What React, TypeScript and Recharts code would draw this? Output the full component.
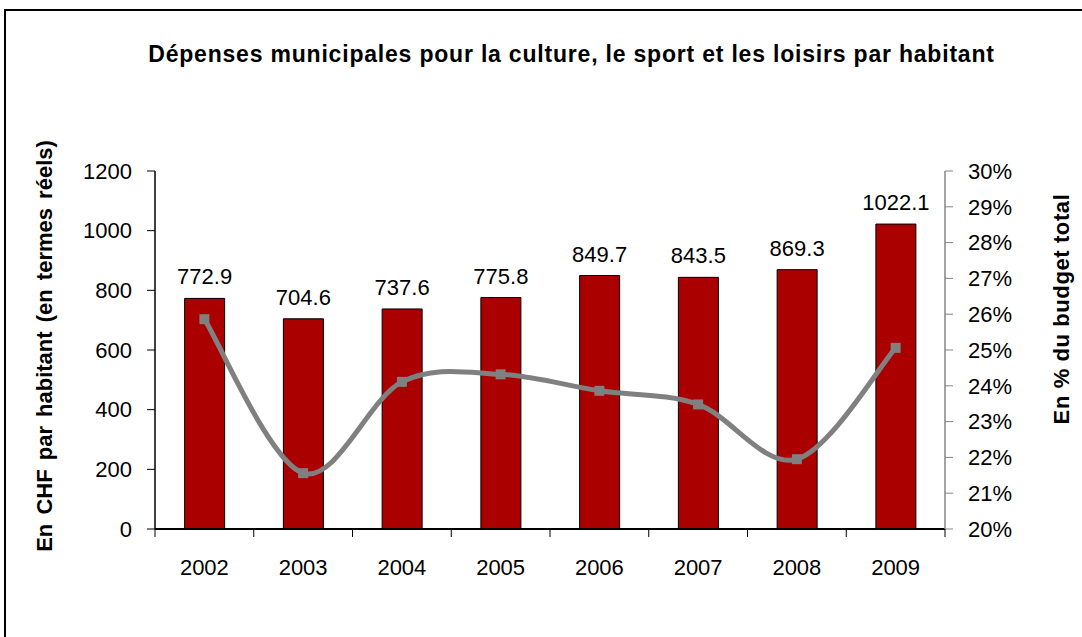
import React from 'react';
import { ComposedChart, Bar, Line, XAxis, YAxis, LabelList, Label } from 'recharts';

const years = ['2002', '2003', '2004', '2005', '2006', '2007', '2008', '2009'];
const spending = [772.9, 704.6, 737.6, 775.8, 849.7, 843.5, 869.3, 1022.1];
const budgetShare = [25.86, 21.56, 24.11, 24.32, 23.86, 23.48, 21.95, 25.06];
const leftTicks = [0, 200, 400, 600, 800, 1000, 1200];
const rightTicks = [20, 21, 22, 23, 24, 25, 26, 27, 28, 29, 30];

const title = 'Dépenses municipales pour la culture, le sport et les loisirs par habitant';
const leftTitle = 'En CHF par habitant (en termes réels)';
const rightTitle = 'En % du budget total';

const data = years.map((y, i) => ({ year: y, spending: spending[i], share: budgetShare[i] }));

const FONT = '"Liberation Sans", Arial, sans-serif';

// Excel-like smoothed line (Catmull-Rom style bezier)
const excelSmooth = (context: any) => {
  let pts: [number, number][] = [];
  return {
    areaStart() {},
    areaEnd() {},
    lineStart() {
      pts = [];
    },
    point(x: number, y: number) {
      pts.push([+x, +y]);
    },
    lineEnd() {
      const n = pts.length;
      if (!n) return;
      context.moveTo(pts[0][0], pts[0][1]);
      for (let i = 0; i < n - 1; i++) {
        const p0 = pts[Math.max(i - 1, 0)];
        const p1 = pts[i];
        const p2 = pts[i + 1];
        const p3 = pts[Math.min(i + 2, n - 1)];
        context.bezierCurveTo(
          p1[0] + (p2[0] - p0[0]) / 6,
          p1[1] + (p2[1] - p0[1]) / 6,
          p2[0] - (p3[0] - p1[0]) / 6,
          p2[1] - (p3[1] - p1[1]) / 6,
          p2[0],
          p2[1]
        );
      }
    },
  };
};

const XTick = (props: any) => {
  const { x, y, payload, index } = props;
  const off = payload && payload.offset ? payload.offset : 0;
  return (
    <g>
      <line x1={x - off} y1={y} x2={x - off} y2={y + 8} stroke="#000" strokeWidth={1} />
      {index === years.length - 1 && (
        <line x1={x + off} y1={y} x2={x + off} y2={y + 8} stroke="#000" strokeWidth={1} />
      )}
      <text x={x} y={y + 38} textAnchor="middle" dominantBaseline="central" fontSize={22} fontFamily={FONT} fill="#000">
        {payload.value}
      </text>
    </g>
  );
};

const SquareDot = (props: any) => {
  const { cx, cy, index } = props;
  if (cx == null || cy == null) return <g key={`d${index}`} />;
  return <rect key={`d${index}`} x={cx - 5} y={cy - 5} width={10} height={10} fill="#808080" />;
};

const LeftTitle = (props: any) => {
  const vb = props.viewBox || { x: 0, y: 0, width: 0, height: 0 };
  const cx = vb.x + 44;
  const cy = vb.y + vb.height / 2 - 4;
  return (
    <text
      x={cx}
      y={cy}
      transform={`rotate(-90 ${cx} ${cy})`}
      textAnchor="middle"
      dominantBaseline="central"
      fontSize={22}
      fontWeight="bold"
      fontFamily={FONT}
      wordSpacing={3}
      fill="#000"
    >
      {leftTitle}
    </text>
  );
};

const RightTitle = (props: any) => {
  const vb = props.viewBox || { x: 0, y: 0, width: 0, height: 0 };
  const cx = vb.x + 116;
  const cy = vb.y + vb.height / 2 - 41;
  return (
    <text
      x={cx}
      y={cy}
      transform={`rotate(-90 ${cx} ${cy})`}
      textAnchor="middle"
      dominantBaseline="central"
      fontSize={22}
      fontWeight="bold"
      fontFamily={FONT}
      letterSpacing={0.6}
      fill="#000"
    >
      {rightTitle}
    </text>
  );
};

export default function App() {
  return (
    <div style={{ position: 'fixed', left: 0, top: 0, width: 1082, height: 637, overflow: 'hidden', background: '#fff' }}>
      <div
        style={{
          position: 'absolute',
          left: 4,
          top: 9,
          width: 1200,
          height: 800,
          borderLeft: '2px solid #000',
          borderTop: '2px solid #000',
          boxSizing: 'border-box',
        }}
      />
      <div
        style={{
          position: 'absolute',
          left: 0,
          top: 43,
          width: 1143,
          textAlign: 'center',
          fontFamily: FONT,
          fontWeight: 'bold',
          fontSize: 23,
          letterSpacing: '0.8px',
          lineHeight: '23px',
          color: '#000',
          whiteSpace: 'nowrap',
        }}
      >
        {title}
      </div>
      <div style={{ position: 'absolute', left: 0, top: 0 }}>
        <ComposedChart width={1082} height={637} data={data} margin={{ top: 171, right: 0, bottom: 0, left: 0 }} barCategoryGap="30%">
          <XAxis
            dataKey="year"
            height={108}
            axisLine={{ stroke: '#000', strokeWidth: 2 }}
            tickLine={false}
            tickSize={0}
            tickMargin={0}
            interval={0}
            tick={<XTick />}
          />
          <YAxis
            yAxisId="left"
            orientation="left"
            width={155}
            domain={[0, 1200]}
            ticks={leftTicks}
            interval={0}
            axisLine={{ stroke: '#000', strokeWidth: 1.5 }}
            tickLine={{ stroke: '#000' }}
            tickSize={8}
            tickMargin={15}
            tick={{ fontSize: 22, fontFamily: FONT, fill: '#000' }}
          >
            <Label content={<LeftTitle />} />
          </YAxis>
          <YAxis
            yAxisId="right"
            orientation="right"
            width={137}
            domain={[20, 30]}
            ticks={rightTicks}
            interval={0}
            tickFormatter={(v: number) => `${v}%`}
            axisLine={{ stroke: '#868686', strokeWidth: 1.5 }}
            tickLine={{ stroke: '#868686' }}
            tickSize={8}
            tickMargin={15}
            tick={{ fontSize: 22, fontFamily: FONT, fill: '#000' }}
          >
            <Label content={<RightTitle />} />
          </YAxis>
          <Bar yAxisId="left" dataKey="spending" fill="#AA0000" stroke="#000" strokeWidth={1} isAnimationActive={false}>
            <LabelList
              dataKey="spending"
              position="top"
              offset={14}
              formatter={(v: any) => Number(v).toFixed(1)}
              style={{ fontSize: 22, fontFamily: FONT, fill: '#000' }}
            />
          </Bar>
          <Line
            yAxisId="right"
            dataKey="share"
            type={excelSmooth as any}
            stroke="#808080"
            strokeWidth={5}
            dot={<SquareDot />}
            activeDot={false}
            isAnimationActive={false}
          />
        </ComposedChart>
      </div>
    </div>
  );
}
